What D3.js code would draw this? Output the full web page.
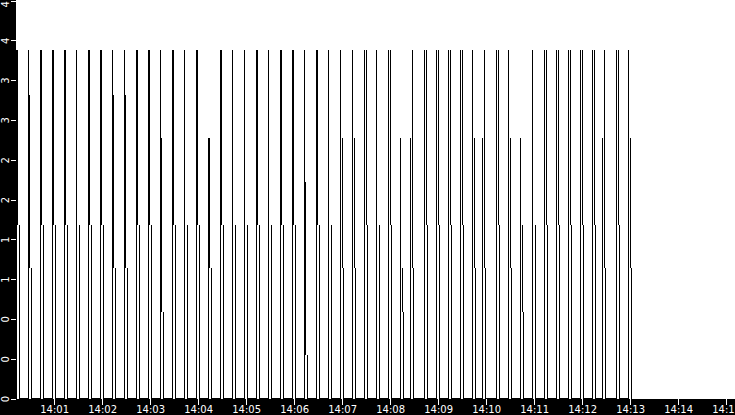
<!DOCTYPE html>
<html>
<head>
<meta charset="utf-8">
<script src="https://cdn.jsdelivr.net/npm/d3@7"></script>
<style>
  body { margin: 0; background: #000; }
  svg { display: block; }
  .axis text { fill: #fff; font-family: "DejaVu Sans", sans-serif; font-size: 10px; }
  .axis line { stroke: #fff; }
</style>
</head>
<body>
<svg id="chart" width="735" height="415"></svg>
<script>
// time window of the chart
const timeStart = "14:00:13";
const timeEnd = "14:15:13";

// y axis ticks (labels are truncated to whole numbers)
const yTicks = [0, 0.45, 0.9, 1.35, 1.8, 2.25, 2.7, 3.15, 3.6, 4.05, 4.5];
const yTickLabels = ["0", "0", "0", "1", "1", "2", "2", "3", "3", "4", "4"];

// one pulse every 15 seconds
const pulseTimes = [
  "14:00:13", "14:00:28", "14:00:43", "14:00:58", "14:01:13", "14:01:28", "14:01:43", "14:01:58",
  "14:02:13", "14:02:28", "14:02:43", "14:02:58", "14:03:13", "14:03:28", "14:03:43", "14:03:58",
  "14:04:13", "14:04:28", "14:04:43", "14:04:58", "14:05:13", "14:05:28", "14:05:43", "14:05:58",
  "14:06:13", "14:06:28", "14:06:43", "14:06:58", "14:07:13", "14:07:28", "14:07:43", "14:07:58",
  "14:08:13", "14:08:28", "14:08:43", "14:08:58", "14:09:13", "14:09:28", "14:09:43", "14:09:58",
  "14:10:13", "14:10:28", "14:10:43", "14:10:58", "14:11:13", "14:11:28", "14:11:43", "14:11:58",
  "14:12:13", "14:12:28", "14:12:43", "14:12:58"
];
// peak reading of each pulse
const pulseTop = [
  3.94, 3.94, 3.94, 3.94, 3.94, 3.94, 3.94, 3.94, 3.94, 3.94, 3.94, 3.94, 3.94,
  3.94, 3.94, 3.94, 2.94, 3.94, 3.94, 3.94, 3.94, 3.94, 3.94, 3.94, 3.94, 3.94,
  3.94, 3.94, 3.94, 3.94, 3.94, 3.94, 2.94, 3.94, 3.94, 3.94, 3.94, 3.94, 3.94,
  3.94, 3.94, 3.94, 2.94, 3.94, 3.94, 3.94, 3.94, 3.94, 3.94, 3.94, 3.94, 3.94
];
// second reading of each pulse
const pulseUpper = [
  3.94, 3.43, 3.94, 3.94, 3.94, 3.94, 3.94, 3.94, 3.43, 3.43, 3.94, 3.94, 2.94,
  3.94, 3.94, 3.94, 2.94, 3.94, 3.94, 3.94, 3.94, 3.94, 3.94, 3.94, 2.45, 3.94,
  3.94, 2.94, 2.94, 3.94, 3.94, 3.94, 1.47, 2.94, 3.94, 3.94, 3.94, 3.94, 2.94,
  2.94, 3.94, 2.94, 1.96, 3.94, 3.94, 3.94, 3.94, 3.94, 3.94, 2.94, 3.94, 2.94
];
// level held before the pulse falls back to zero
const pulseSplit = [
  1.96, 1.47, 1.96, 1.96, 1.96, 1.96, 1.96, 1.96, 1.47, 1.47, 1.96, 1.96, 0.98,
  1.96, 1.96, 1.96, 1.47, 1.96, 1.96, 1.96, 1.96, 1.96, 1.96, 1.96, 0.49, 1.96,
  1.96, 1.47, 1.47, 1.96, 1.96, 1.96, 0.98, 1.47, 1.96, 1.96, 1.96, 1.96, 1.47,
  1.47, 1.96, 1.47, 0.98, 1.96, 1.96, 1.96, 1.96, 1.96, 1.96, 1.47, 1.96, 1.47
];
// samples between first and second reading (negative: second reading came first)
const pulseSide = [
  1, 1, 1, 1, 1, 0, 1, 1, 1, 1, 1, 1, 1,
  1, 0, 1, 1, 1, 0, 0, 1, 0, 1, 1, 1, 1,
  0, 2, 2, 2, 0, 2, 2, -2, 2, 2, 2, 2, 2,
  -2, 2, 2, 2, 0, 2, 2, 2, 2, 2, -2, 2, 2
];
const sampleSeconds = 1.25;

const width = 735, height = 415;
const margin = { left: 16, bottom: 16 };
const plotBottom = height - margin.bottom;

const parse = d3.timeParse("%H:%M:%S");

const x = d3.scaleTime()
  .domain([parse(timeStart), parse(timeEnd)])
  .range([margin.left + 0.5, margin.left + 720.5]);

const y = d3.scaleLinear()
  .domain([0, 4.5])
  .range([plotBottom - 0.5, 0.5]);

// build the sampled readings of every pulse
const points = [];
pulseTimes.forEach((t, i) => {
  const t0 = parse(t).getTime();
  const top = pulseTop[i], up = pulseUpper[i], sp = pulseSplit[i], s = pulseSide[i];
  let steps;
  if (s >= 0) {
    steps = [[0, 0], [0, top], [0, up], [s, up], [s, sp], [3, sp], [3, 0]];
  } else {
    steps = [[s, 0], [s, up], [0, up], [0, top], [0, sp], [1, sp], [1, 0]];
  }
  steps.forEach(([k, v]) => points.push({ t: new Date(t0 + k * sampleSeconds * 1000), v: v }));
});

// only the jumps are drawn, plus the zero baseline between pulses
const segments = [];
for (let i = 1; i < points.length; i++) {
  const a = points[i - 1], b = points[i];
  if (+a.t === +b.t || (a.v === 0 && b.v === 0)) segments.push([a, b]);
}

const svg = d3.select("#chart");

svg.append("rect")
  .attr("width", width).attr("height", height)
  .attr("fill", "#000");

svg.append("defs").append("clipPath").attr("id", "clip")
  .append("rect")
  .attr("x", margin.left).attr("y", 0)
  .attr("width", width - margin.left).attr("height", plotBottom);

svg.append("rect")
  .attr("x", margin.left).attr("y", 0)
  .attr("width", width - margin.left).attr("height", plotBottom)
  .attr("fill", "#fff");

const line = d3.line()
  .x(d => x(d.t))
  .y(d => y(d.v));

svg.append("path")
  .attr("clip-path", "url(#clip)")
  .attr("fill", "none")
  .attr("stroke", "#000")
  .attr("stroke-width", 1)
  .attr("shape-rendering", "crispEdges")
  .attr("d", segments.map(s => line(s)).join(""));

// x axis
const xAxis = svg.append("g")
  .attr("class", "axis")
  .attr("transform", `translate(0,${plotBottom})`)
  .call(d3.axisBottom(x)
    .ticks(d3.timeMinute.every(1))
    .tickFormat(d3.timeFormat("%H:%M"))
    .tickSize(6)
    .tickPadding(1));
xAxis.select(".domain").remove();
xAxis.selectAll("line").attr("shape-rendering", "crispEdges");

// y axis, labels turned sideways
const yAxis = svg.append("g")
  .attr("class", "axis")
  .attr("transform", `translate(${margin.left},0)`)
  .call(d3.axisLeft(y)
    .tickValues(yTicks)
    .tickFormat((d, i) => yTickLabels[i])
    .tickSize(5));
yAxis.select(".domain").remove();
yAxis.selectAll("line").attr("shape-rendering", "crispEdges");
yAxis.selectAll("text")
  .attr("x", null).attr("dy", null)
  .attr("text-anchor", (d, i) => i === yTicks.length - 1 ? "end" : "middle")
  .attr("transform", "translate(-7.5,0) rotate(-90)");
</script>
</body>
</html>
